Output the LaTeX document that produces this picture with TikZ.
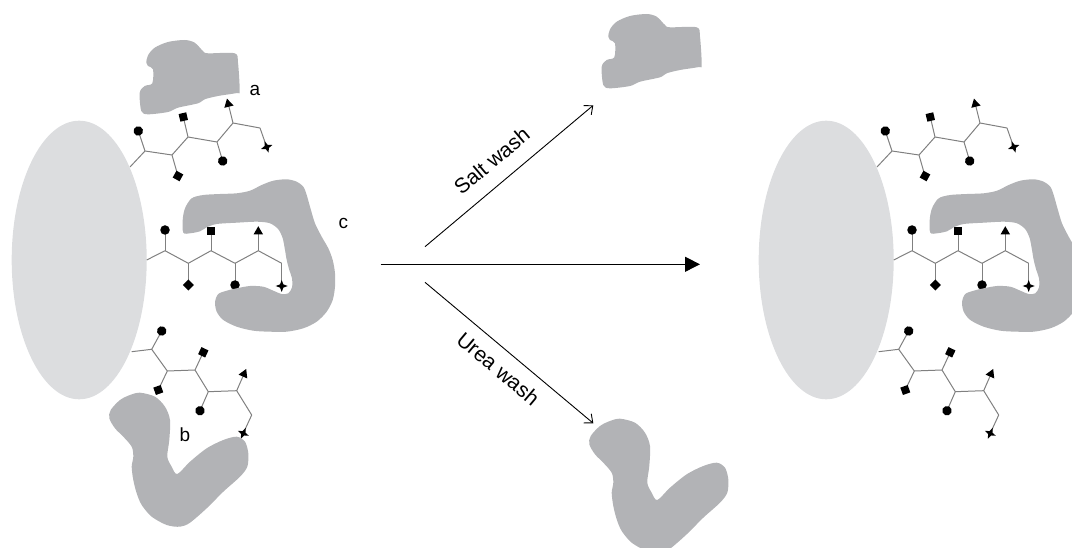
\documentclass[tikz,border=0pt]{standalone}
\usepackage{fontspec}
\setmainfont{Liberation Sans}
\usetikzlibrary{arrows.meta,shapes.geometric}

\definecolor{beadfill}{HTML}{DCDDDF}
\definecolor{protfill}{HTML}{B2B3B6}
\definecolor{bondcol}{HTML}{808080}

\tikzset{
  bond/.style={draw=bondcol, line width=1pt, line join=round},
  residue/.style={fill=black, draw=none, inner sep=0pt, outer sep=0pt,
                  sloped, allow upside down, pos=1},
  mcirc/.style={residue, circle, minimum size=9.5pt},
  msq/.style={residue, rectangle, minimum size=7.8pt},
  mdia/.style={residue, rectangle, minimum size=7.8pt, rotate=45},
  mtri/.style={residue, regular polygon, regular polygon sides=3,
               minimum size=11pt, shape border rotate=-90},
  mstar/.style={residue, star, star points=4, star point ratio=2.6,
                minimum size=12pt},
  bead/.style={fill=beadfill},
  protein/.style={fill=protfill},
  letter/.style={font=\fontsize{19}{22}\selectfont, inner sep=0pt},
  washlabel/.style={font=\fontsize{21}{24}\selectfont, inner sep=0pt},
  flow/.style={line width=0.9pt, draw=black},
}

% three branched chains on the bead surface; #1 is a name prefix
\newcommand\glycanchains[1]{%
  % upper chain
  \coordinate (#1u0) at (130,167);   \coordinate (#1u1) at (145,151);
  \coordinate (#1u2) at (172,155);   \coordinate (#1u3) at (188,137);
  \coordinate (#1u4) at (217,142);   \coordinate (#1u5) at (233,123);
  \coordinate (#1u6) at (260,128);
  \coordinate (#1ua) at (138.3,131); \coordinate (#1ub) at (178,176);
  \coordinate (#1uc) at (183.3,117); \coordinate (#1ud) at (222.7,161);
  \coordinate (#1ue) at (228.3,104); \coordinate (#1uf) at (266.7,147);
  \draw[bond] (#1u0) -- (#1u1) -- (#1u2) -- (#1u3) -- (#1u4) -- (#1u5) -- (#1u6);
  \draw[bond] (#1u1) -- node[mcirc]{} (#1ua);
  \draw[bond] (#1u2) -- node[mdia]{} (#1ub);
  \draw[bond] (#1u3) -- node[msq]{} (#1uc);
  \draw[bond] (#1u4) -- node[mcirc]{} (#1ud);
  \draw[bond] (#1u5) -- node[mtri]{} (#1ue);
  \draw[bond] (#1u6) -- node[mstar]{} (#1uf);
  % middle chain
  \coordinate (#1m0) at (146.7,260);   \coordinate (#1m1) at (165,250.7);
  \coordinate (#1m2) at (188.3,263.3); \coordinate (#1m3) at (211,250.7);
  \coordinate (#1m4) at (235,263.3);   \coordinate (#1m5) at (258.3,250.7);
  \coordinate (#1m6) at (281.7,263.3);
  \coordinate (#1ma) at (165,230);     \coordinate (#1mb) at (188.3,285);
  \coordinate (#1mc) at (211,230.7);   \coordinate (#1md) at (235,285);
  \coordinate (#1me) at (258.3,231.7); \coordinate (#1mf) at (281.7,286);
  \draw[bond] (#1m0) -- (#1m1) -- (#1m2) -- (#1m3) -- (#1m4) -- (#1m5) -- (#1m6);
  \draw[bond] (#1m1) -- node[mcirc]{} (#1ma);
  \draw[bond] (#1m2) -- node[mdia]{} (#1mb);
  \draw[bond] (#1m3) -- node[msq]{} (#1mc);
  \draw[bond] (#1m4) -- node[mcirc]{} (#1md);
  \draw[bond] (#1m5) -- node[mtri]{} (#1me);
  \draw[bond] (#1m6) -- node[mstar]{} (#1mf);
  % lower chain
  \coordinate (#1l0) at (131.7,351.7); \coordinate (#1l1) at (151.7,349.3);
  \coordinate (#1l2) at (167.3,371);   \coordinate (#1l3) at (195,370);
  \coordinate (#1l4) at (208.3,391.7); \coordinate (#1l5) at (236.7,390.7);
  \coordinate (#1l6) at (251.7,415);
  \coordinate (#1la) at (161.7,331);   \coordinate (#1lb) at (158.3,390);
  \coordinate (#1lc) at (203.3,352.3); \coordinate (#1ld) at (200,410.7);
  \coordinate (#1le) at (244,374);     \coordinate (#1lf) at (243.3,433.3);
  \draw[bond] (#1l0) -- (#1l1) -- (#1l2) -- (#1l3) -- (#1l4) -- (#1l5) -- (#1l6);
  \draw[bond] (#1l1) -- node[mcirc]{} (#1la);
  \draw[bond] (#1l2) -- node[mdia]{} (#1lb);
  \draw[bond] (#1l3) -- node[msq]{} (#1lc);
  \draw[bond] (#1l4) -- node[mcirc]{} (#1ld);
  \draw[bond] (#1l5) -- node[mtri]{} (#1le);
  \draw[bond] (#1l6) -- node[mstar]{} (#1lf);
}

% protein shapes
\newcommand\proteinA{%
  \fill[protein] plot[smooth cycle, tension=0.5] coordinates {
    (610,29.3) (616.7,21.7) (630,16) (646.7,14) (656.7,16.7) (665,25)
    (670,27.3) (696.7,27.3) (700,36.7) (701.7,65) (699,67) (680,70)
    (666.7,73.3) (660,77.3) (640,81.7) (630,86) (610,88.3) (603.3,85)
    (601.7,66.7) (606.7,60) (614.3,57.3) (615,43.3) (610,40) (608.3,36.7)};
}
\newcommand\proteinB{%
  \fill[protein] plot[smooth cycle, tension=0.5] coordinates {
    (140,392.7) (155,396.7) (165,406.7) (170,420) (169.3,440) (167.3,456.7)
    (171.7,466.7) (177.3,474) (190,461.7) (206.7,448.3) (223.3,440)
    (236.7,436.7) (245,441.7) (248.3,453.3) (247.3,466.7) (240,476.7)
    (223.3,491.7) (206.7,508.3) (190,522.7) (180,526.7) (166.7,525)
    (151.7,516.7) (141.7,505) (136.7,493.3) (133.3,480) (131.7,466.7)
    (133.3,456.7) (131.7,446.7) (123.3,436.7) (115,428.3) (109.3,418.3)
    (110.7,410) (120,400) (130,395)};
}
\newcommand\proteinC{%
  \fill[protein] plot[smooth cycle, tension=0.5] coordinates {
    (183.3,232.7) (182.7,220) (185,208.3) (191.7,198.3) (203.3,195) (220,194)
    (236.7,193.3) (250,190.7) (261.7,185) (273.3,180.7) (286.7,179.3)
    (296.7,181.7) (303.3,186.7) (306.7,195) (310,206.7) (315,223.3)
    (321.7,236.7) (328.3,248.3) (332.7,260) (335,273.3) (335,286.7)
    (332.7,300) (326.7,311.7) (316.7,321.7) (303.3,328.3) (286.7,331.7)
    (270,331.7) (253.3,330.7) (236.7,326.7) (223.3,320) (216.7,311.7)
    (215,301.7) (218.3,294) (226.7,290.7) (236.7,288.3) (250,286)
    (263.3,286.7) (273.3,290.7) (281.7,294) (288.3,293.3) (292,287.3)
    (292,278.3) (289.3,270) (286.7,260) (285,250) (282.7,238.3)
    (278.3,229.3) (270,223.3) (256.7,221.7) (236.7,222.7) (216.7,224)
    (206.7,227.3) (200,231.3) (190,233.3)};
}

\begin{document}
\begin{tikzpicture}[x=1pt, y=-1pt]
  \clip (0,0) rectangle (1072,548);

  % ---- bead with bound proteins a, b, c ----
  \fill[bead] (79.2,260) ellipse [x radius=67.5pt, y radius=139.3pt];
  \glycanchains{L}
  \begin{scope}[shift={(-462,26)}] \proteinA \end{scope}
  \proteinB
  \proteinC
  \node[letter] (la) at (255,90) {a};
  \node[letter] (lb) at (185,435) {b};
  \node[letter] (lc) at (343.3,223.3) {c};

  % ---- washing steps ----
  \coordinate (src)   at (380.7,264.3);
  \coordinate (dst)   at (700,264.3);
  \coordinate (saltA) at (425,246.7);
  \coordinate (saltB) at (593.3,105.3);
  \coordinate (ureaA) at (425,282.3);
  \coordinate (ureaB) at (593.3,423.3);
  \draw[flow, -{Triangle[length=15pt, width=15pt]}] (src) -- (dst);
  \draw[flow, -{Straight Barb[length=7pt, width=12pt]}] (saltA) -- (saltB);
  \draw[flow, -{Straight Barb[length=7pt, width=12pt]}] (ureaA) -- (ureaB);
  \node[washlabel, rotate=40]  (salt) at (491.7,160.8) {Salt wash};
  \node[washlabel, rotate=-40] (urea) at (498.3,368.7) {Urea wash};

  % released proteins
  \proteinA
  \begin{scope}[shift={(480,26)}] \proteinB \end{scope}

  % ---- bead after washing, protein c still bound ----
  \begin{scope}[shift={(747,0)}]
    \fill[bead] (79.2,260) ellipse [x radius=67.5pt, y radius=139.3pt];
    \glycanchains{R}
    \proteinC
  \end{scope}
\end{tikzpicture}
\end{document}
